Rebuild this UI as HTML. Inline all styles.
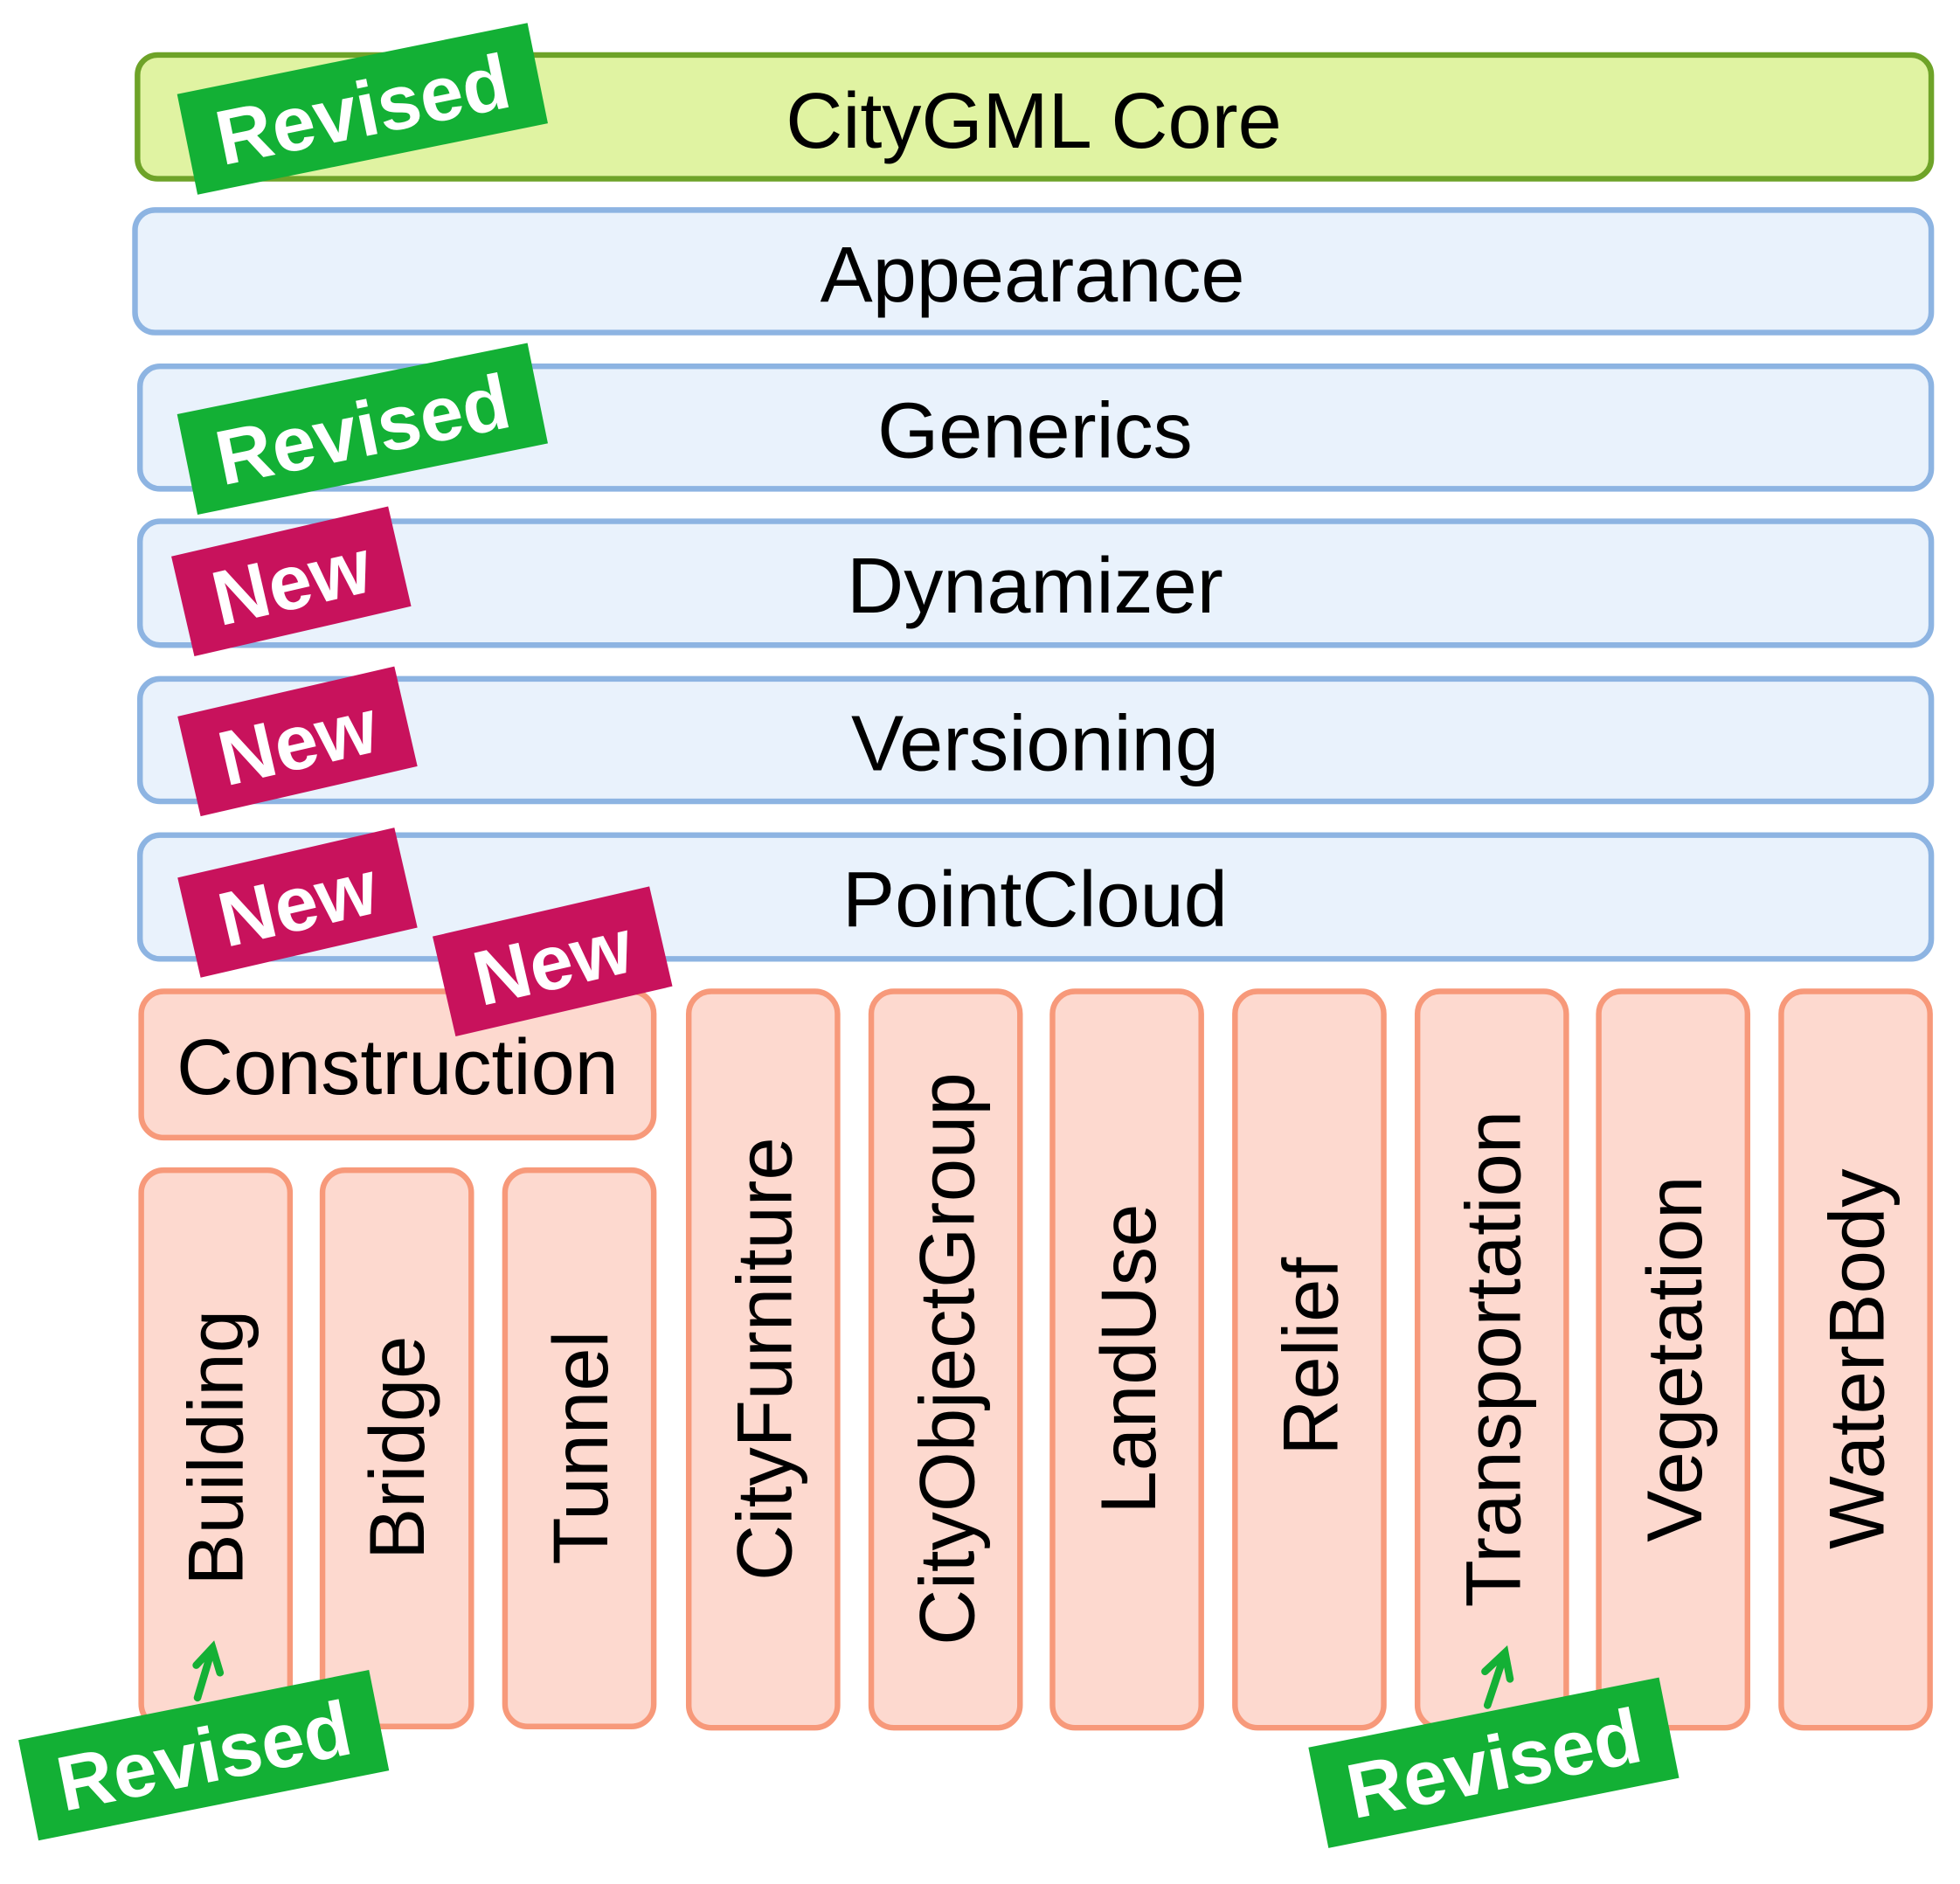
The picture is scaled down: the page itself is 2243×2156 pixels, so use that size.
<!DOCTYPE html>
<html><head><meta charset="utf-8"><style>
html,body{margin:0;padding:0;background:#fff;}
svg{display:block;}
text{font-family:"Liberation Sans",Arial,sans-serif;}
</style></head><body>
<svg width="2243" height="2156" viewBox="0 0 1568 1507" preserveAspectRatio="none" xmlns="http://www.w3.org/2000/svg">
<g stroke-width="4.5">
<rect x="110" y="44" width="1435" height="99" rx="16" fill="#e0f3a2" stroke="#6ea328"/>
<rect x="108" y="168" width="1437" height="98" rx="16" fill="#e9f2fc" stroke="#8db4e2"/>
<rect x="112" y="293" width="1433" height="98" rx="16" fill="#e9f2fc" stroke="#8db4e2"/>
<rect x="112" y="417" width="1433" height="99" rx="16" fill="#e9f2fc" stroke="#8db4e2"/>
<rect x="112" y="543" width="1433" height="98" rx="16" fill="#e9f2fc" stroke="#8db4e2"/>
<rect x="112" y="668" width="1433" height="99" rx="16" fill="#e9f2fc" stroke="#8db4e2"/>
<g fill="#fdd9cf" stroke="#f7997a">
<rect x="113" y="793" width="410" height="117" rx="18"/>
<rect x="113" y="936" width="119" height="445" rx="18"/>
<rect x="258" y="936" width="119" height="445" rx="18"/>
<rect x="404" y="936" width="119" height="445" rx="18"/>
<rect x="551" y="793" width="119" height="589" rx="18"/>
<rect x="697" y="793" width="119" height="589" rx="18"/>
<rect x="842" y="793" width="119" height="589" rx="18"/>
<rect x="988" y="793" width="119" height="589" rx="18"/>
<rect x="1134" y="793" width="119" height="589" rx="18"/>
<rect x="1279" y="793" width="119" height="589" rx="18"/>
<rect x="1425" y="793" width="119" height="589" rx="18"/>
</g>
</g>
<g font-size="63" fill="#000" text-anchor="middle">
<text x="827" y="118">CityGML Core</text>
<text x="826" y="241">Appearance</text>
<text x="828" y="366">Generics</text>
<text x="828" y="490">Dynamizer</text>
<text x="828" y="616">Versioning</text>
<text x="828" y="741">PointCloud</text>
<text x="318" y="875">Construction</text>
</g>
<g font-size="62" fill="#000" text-anchor="middle">
<text transform="translate(194,1158) rotate(-90)">Building</text>
<text transform="translate(339,1158) rotate(-90)">Bridge</text>
<text transform="translate(486,1158) rotate(-90)">Tunnel</text>
<text transform="translate(633,1087) rotate(-90)">CityFurniture</text>
<text transform="translate(779,1087) rotate(-90)">CityObjectGroup</text>
<text transform="translate(924,1087) rotate(-90)">LandUse</text>
<text transform="translate(1070,1085) rotate(-90)">Relief</text>
<text transform="translate(1216,1087) rotate(-90)">Transportation</text>
<text transform="translate(1361,1087) rotate(-90)">Vegetation</text>
<text transform="translate(1507,1087) rotate(-90)">WaterBody</text>
</g>
<g stroke="#14b035" stroke-width="6" fill="none" stroke-linecap="round">
<path d="M158 1358 L170 1318 M157 1332 L170 1318 L176 1338"/>
<path d="M1190 1364 L1204 1322 M1188 1337 L1204 1322 L1208 1343"/>
</g>
<g font-weight="bold" fill="#fff" text-anchor="middle" font-size="62">
<g transform="translate(290,87) rotate(-11.5)"><rect x="-143" y="-41" width="286" height="82" fill="#13b035"/><text x="0" y="22">Revised</text></g>
<g transform="translate(290,343) rotate(-11.5)"><rect x="-143" y="-41" width="286" height="82" fill="#13b035"/><text x="0" y="22">Revised</text></g>
<g transform="translate(233,465) rotate(-13)"><rect x="-89" y="-41" width="178" height="82" fill="#c8125c"/><text x="0" y="22">New</text></g>
<g transform="translate(238,593) rotate(-13)"><rect x="-89" y="-41" width="178" height="82" fill="#c8125c"/><text x="0" y="22">New</text></g>
<g transform="translate(238,722) rotate(-13)"><rect x="-89" y="-41" width="178" height="82" fill="#c8125c"/><text x="0" y="22">New</text></g>
<g transform="translate(442,769) rotate(-13)"><rect x="-89" y="-41" width="178" height="82" fill="#c8125c"/><text x="0" y="22">New</text></g>
<g transform="translate(163,1404) rotate(-11.3)"><rect x="-143" y="-41" width="286" height="82" fill="#13b035"/><text x="0" y="22">Revised</text></g>
<g transform="translate(1195,1410) rotate(-11.3)"><rect x="-143" y="-41" width="286" height="82" fill="#13b035"/><text x="0" y="22">Revised</text></g>
</g>
</svg>
</body></html>
